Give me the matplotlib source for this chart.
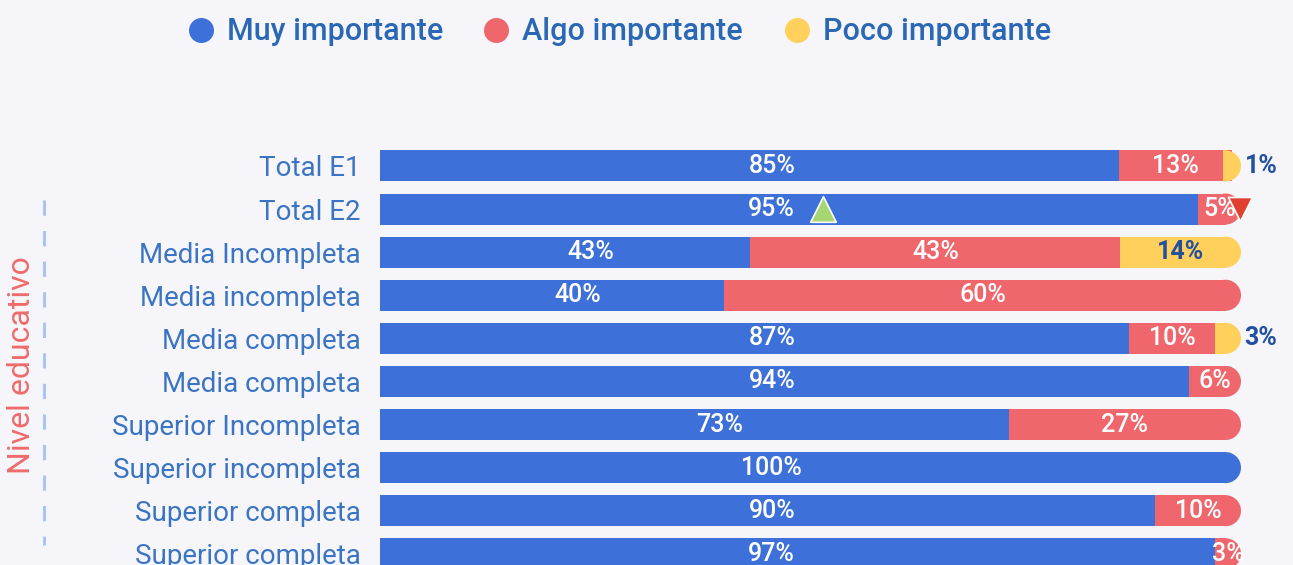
import numpy as np
import matplotlib
matplotlib.use('Agg')
import matplotlib.pyplot as plt
from matplotlib.patches import Ellipse
from matplotlib.lines import Line2D

plt.rcParams['font.family'] = ['Roboto', 'DejaVu Sans']

categories = ['Total E1', 'Total E2', 'Media Incompleta', 'Media incompleta',
              'Media completa', 'Media completa', 'Superior Incompleta',
              'Superior incompleta', 'Superior completa', 'Superior completa']
muy = [85, 95, 43, 40, 87, 94, 73, 100, 90, 97]
algo = [13, 5, 43, 60, 10, 6, 27, 0, 10, 3]
poco = [1, 0, 14, 0, 3, 0, 0, 0, 0, 0]
series_names = ['Muy importante', 'Algo importante', 'Poco importante']

BLUE = '#3D70D9'
RED = '#EF676C'
YELLOW = '#FFD05C'
BG = '#F6F6FA'
TICK_COL = '#3A74C2'
DARK = '#22509F'
colors = [BLUE, RED, YELLOW]

fig = plt.figure(figsize=(12.93, 5.65), dpi=100)
fig.patch.set_facecolor(BG)
ax = fig.add_axes([380 / 1293, 0, 861 / 1293, 465 / 565])
ax.set_facecolor(BG)
ax.set_xlim(0, 100)
ax.set_ylim(9.26, -1.53)

bar_h = 0.72
cap_r = 1.8  # rounded end, in x data units

data = np.array([muy, algo, poco], dtype=float)
for i in range(len(categories)):
    vals = data[:, i]
    scaled = vals / vals.sum() * 100
    nz = [k for k in range(3) if vals[k] > 0]
    last = nz[-1]
    left = 0.0
    for k in range(3):
        if vals[k] <= 0:
            continue
        w = scaled[k]
        if k == last:
            # tiny last piece still gets a full rounded cap
            start = left
            if vals[k] < 5 and k > 0:
                start = min(left, 100 - cap_r - 0.3)
            body = (left + w - cap_r) - start
            if body > 0:
                ax.barh(i, body, left=start, height=bar_h, color=colors[k], linewidth=0)
            ell = Ellipse((max(left + w - cap_r, start), i), 2 * cap_r, bar_h,
                          color=colors[k], linewidth=0)
            ax.add_patch(ell)
            clip = plt.Rectangle((start, i - bar_h), 110, 2 * bar_h, transform=ax.transData)
            ell.set_clip_path(clip)
        else:
            ax.barh(i, w, left=left, height=bar_h, color=colors[k], linewidth=0)
        lbl = '{:.0f}%'.format(vals[k])
        if k == 0:
            ax.text(min(w / 2 + 3, 45.5), i, lbl, ha='center', va='center',
                    color='white', fontsize=18, fontweight='medium')
        elif k == 1:
            ax.text(left + w / 2, i, lbl, ha='center', va='center',
                    color='white', fontsize=18, fontweight='medium')
        else:
            if vals[k] < 5:
                ax.text(100.4, i, lbl, ha='left', va='center',
                        color=DARK, fontsize=18, fontweight='bold')
            else:
                ax.text(left + w / 2, i, lbl, ha='center', va='center',
                        color=DARK, fontsize=18, fontweight='bold')
        left += w

# change indicators for Total E2
ax.scatter([51.5], [1.0], marker='^', s=340, color='#A6D672', edgecolors='white',
           linewidths=1.2, zorder=5)
ax.scatter([99.9], [1.0], marker='v', s=300, color='#E0402F', edgecolors='white',
           linewidths=1.2, zorder=5, clip_on=False)

ax.set_yticks(range(len(categories)))
ax.set_yticklabels(categories, fontsize=20, color=TICK_COL)
ax.tick_params(axis='y', length=0, pad=14)
ax.set_xticks([])
for s in ax.spines.values():
    s.set_visible(False)

# group label and dashed bracket
fig.text(22 / 1293, 1 - 365 / 565, 'Nivel educativo', rotation=90, ha='center',
         va='center', color='#EF6B6B', fontsize=23)
fig.add_artist(Line2D([44 / 1293, 44 / 1293], [1 - 200 / 565, 1 - 545 / 565],
                      color='#A9C4F5', linewidth=2.2, linestyle=(0, (5, 5))))

handles = [Line2D([0], [0], marker='o', linestyle='', markersize=18,
                  markerfacecolor=c, markeredgewidth=0) for c in colors]
fig.legend(handles, series_names, loc='upper left', bbox_to_anchor=(158 / 1293, 1.018),
           ncol=3, frameon=False, labelcolor='#2A68B5',
           handlelength=1.0, handletextpad=0.35, columnspacing=1.25,
           prop={'size': 22, 'weight': 'medium'})

plt.savefig('out.png', dpi=100, facecolor=BG)
